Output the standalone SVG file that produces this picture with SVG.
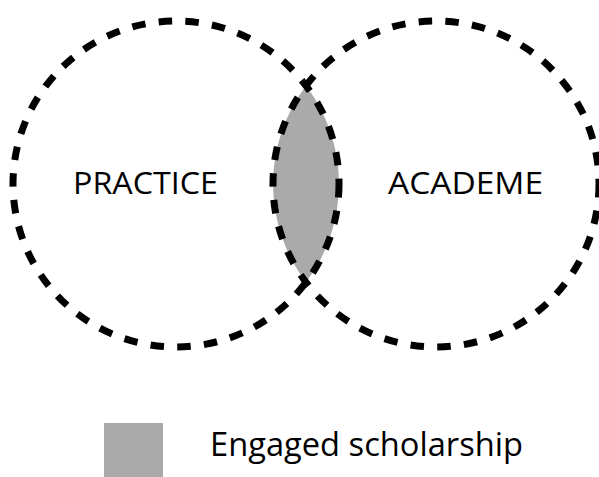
<svg xmlns="http://www.w3.org/2000/svg" width="599" height="477" viewBox="0 0 599 477">
<style>
.ring{fill:none;stroke:#000;stroke-width:7;stroke-dasharray:13.5 13.3}
.lbl{font-family:"Open Sans","Noto Sans","Liberation Sans",sans-serif;fill:#000}
.shade{fill:#aaaaaa}
</style>
<rect width="599" height="477" fill="#fff"/>
<g id="overlap">
<path class="shade" d="M306,85.7 A163,163 0 0,1 306,282.3 A163,163 0 0,1 306,85.7 Z"/>
</g>
<g id="practice">
<circle class="ring" cx="176" cy="184" r="163"/>
<text class="lbl" x="73" y="194" font-size="31.5" textLength="145" lengthAdjust="spacingAndGlyphs">PRACTICE</text>
</g>
<g id="academe">
<circle class="ring" cx="436" cy="184" r="163"/>
<text class="lbl" x="388" y="194" font-size="31.5" textLength="155" lengthAdjust="spacingAndGlyphs">ACADEME</text>
</g>
<g id="legend">
<rect class="shade" x="104" y="423" width="59" height="60"/>
<text class="lbl" x="210" y="456" font-size="33" textLength="313" lengthAdjust="spacingAndGlyphs">Engaged scholarship</text>
</g>
<g id="connectors"></g>
</svg>
